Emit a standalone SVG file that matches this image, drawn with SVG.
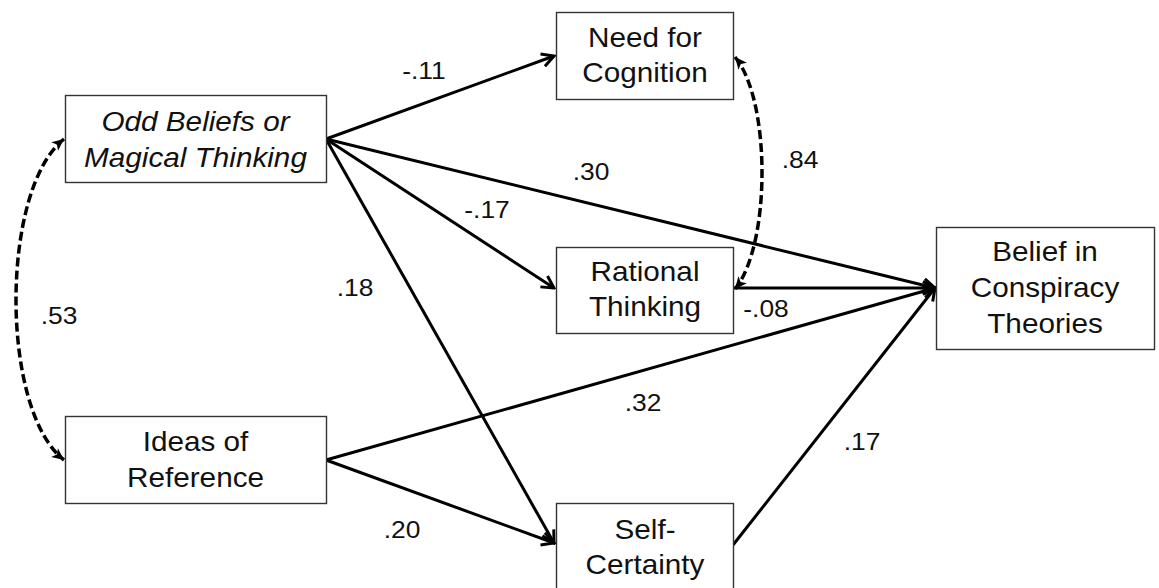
<svg xmlns="http://www.w3.org/2000/svg" width="1159" height="588" viewBox="0 0 1159 588">
  <style>
    .box { fill: #ffffff; stroke: #333333; stroke-width: 1.4; }
    .lbl { font-family: "Liberation Sans", Arial, sans-serif; font-size: 27px; fill: #111111; text-anchor: middle; }
    .num { font-family: "Liberation Sans", Arial, sans-serif; font-size: 24px; fill: #111111; text-anchor: middle; }
    .path { fill: none; stroke: #000000; stroke-width: 3; }
    .cov { fill: none; stroke: #000000; stroke-width: 3.5; stroke-dasharray: 9 4; }
  </style>
  <defs>
    <marker id="arrow" viewBox="0 0 16 16" refX="14" refY="8" markerWidth="16" markerHeight="16" markerUnits="userSpaceOnUse" orient="auto">
      <path d="M2,1.5 L14,8 L2,14.5" fill="none" stroke="#000000" stroke-width="3" stroke-linejoin="miter"/>
    </marker>
    <marker id="head" viewBox="0 0 14 14" refX="13" refY="7" markerWidth="14" markerHeight="14" markerUnits="userSpaceOnUse" orient="auto-start-reverse">
      <path d="M1,1.5 L13,7 L1,12.5 L4,7 Z" fill="#000000"/>
    </marker>
  </defs>

  <!-- paths and covariances -->
  <g id="connectors">
    <line class="path" x1="326" y1="139" x2="554" y2="56" marker-end="url(#arrow)"/>
    <line class="path" x1="326" y1="139" x2="554" y2="288" marker-end="url(#arrow)"/>
    <line class="path" x1="326" y1="139" x2="935" y2="288" marker-end="url(#arrow)"/>
    <line class="path" x1="326" y1="139" x2="554" y2="543" marker-end="url(#arrow)"/>
    <line class="path" x1="326" y1="460" x2="935" y2="288" marker-end="url(#arrow)"/>
    <line class="path" x1="326" y1="460" x2="554" y2="543" marker-end="url(#arrow)"/>
    <line class="path" x1="733" y1="288" x2="935" y2="288" marker-end="url(#arrow)"/>
    <line class="path" x1="733" y1="545" x2="935" y2="288" marker-end="url(#arrow)"/>
    <path class="cov" d="M64,139 C0,190 0,410 64,460" marker-start="url(#head)" marker-end="url(#head)"/>
    <path class="cov" d="M735,57 C771,100 771,245 735,289" marker-start="url(#head)" marker-end="url(#head)"/>
  </g>

  <g id="odd-beliefs">
    <rect class="box" x="65.5" y="95.5" width="261" height="87"/>
    <text class="lbl" font-style="italic" transform="translate(195.5,131) scale(1.1,1)"><tspan x="0" y="0">Odd Beliefs or</tspan><tspan x="0" y="36">Magical Thinking</tspan></text>
  </g>

  <g id="ideas-of-reference">
    <rect class="box" x="65.5" y="416.5" width="261" height="87"/>
    <text class="lbl" transform="translate(195.5,451) scale(1.1,1)"><tspan x="0" y="0">Ideas of</tspan><tspan x="0" y="36">Reference</tspan></text>
  </g>

  <g id="need-for-cognition">
    <rect class="box" x="556.5" y="12.5" width="177" height="87"/>
    <text class="lbl" transform="translate(645,47) scale(1.1,1)"><tspan x="0" y="0">Need for</tspan><tspan x="0" y="35">Cognition</tspan></text>
  </g>

  <g id="rational-thinking">
    <rect class="box" x="556.5" y="247.5" width="177" height="86"/>
    <text class="lbl" transform="translate(645,281) scale(1.1,1)"><tspan x="0" y="0">Rational</tspan><tspan x="0" y="35">Thinking</tspan></text>
  </g>

  <g id="self-certainty">
    <rect class="box" x="556.5" y="503.5" width="177" height="88"/>
    <text class="lbl" transform="translate(645,539) scale(1.1,1)"><tspan x="0" y="0">Self-</tspan><tspan x="0" y="35">Certainty</tspan></text>
  </g>

  <g id="belief-in-conspiracy-theories">
    <rect class="box" x="936.5" y="227.5" width="218" height="122"/>
    <text class="lbl" transform="translate(1045,261) scale(1.1,1)"><tspan x="0" y="0">Belief in</tspan><tspan x="0" y="36">Conspiracy</tspan><tspan x="0" y="72">Theories</tspan></text>
  </g>

  <!-- path coefficients -->
  <g id="coefficients">
    <text class="num" transform="translate(424,79) scale(1.1,1)">-.11</text>
    <text class="num" transform="translate(591,180) scale(1.1,1)">.30</text>
    <text class="num" transform="translate(800,168) scale(1.1,1)">.84</text>
    <text class="num" transform="translate(487,218) scale(1.1,1)">-.17</text>
    <text class="num" transform="translate(355,296) scale(1.1,1)">.18</text>
    <text class="num" transform="translate(59,324) scale(1.1,1)">.53</text>
    <text class="num" transform="translate(766,317) scale(1.1,1)">-.08</text>
    <text class="num" transform="translate(643,411) scale(1.1,1)">.32</text>
    <text class="num" transform="translate(862,450) scale(1.1,1)">.17</text>
    <text class="num" transform="translate(402,538) scale(1.1,1)">.20</text>
  </g>
</svg>
